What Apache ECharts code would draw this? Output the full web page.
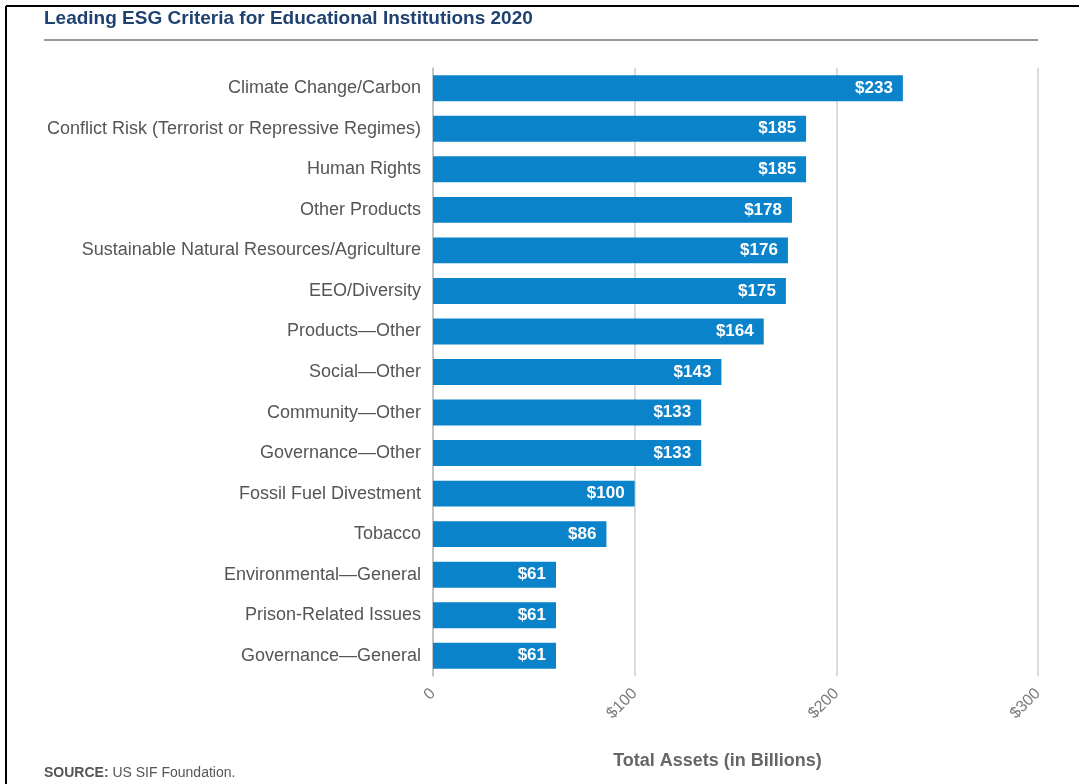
<!DOCTYPE html>
<html>
<head>
<meta charset="utf-8">
<title>Leading ESG Criteria for Educational Institutions 2020</title>
<script src="https://cdn.jsdelivr.net/npm/echarts@6/dist/echarts.min.js"></script>
<style>
  html, body { margin: 0; padding: 0; background: #fff; }
  #chart { width: 1079px; height: 784px; }
</style>
</head>
<body>
<div id="chart"></div>
<script>
// categories, top to bottom
var categories = [
  'Climate Change/Carbon',
  'Conflict Risk (Terrorist or Repressive Regimes)',
  'Human Rights',
  'Other Products',
  'Sustainable Natural Resources/Agriculture',
  'EEO/Diversity',
  'Products\u2014Other',
  'Social\u2014Other',
  'Community\u2014Other',
  'Governance\u2014Other',
  'Fossil Fuel Divestment',
  'Tobacco',
  'Environmental\u2014General',
  'Prison-Related Issues',
  'Governance\u2014General'
];
// total assets, billions
var assets = [233, 185, 185, 178, 176, 175, 164, 143, 133, 133, 100, 86, 61, 61, 61];
var tickLabels = { 0: '0', 100: '$100', 200: '$200', 300: '$300' };

var chart = echarts.init(document.getElementById('chart'));
var font = '"Liberation Sans", Arial, sans-serif';

var option = {
  animation: false,
  textStyle: { fontFamily: font },
  grid: { left: 433, right: 41, top: 68, bottom: 108, containLabel: false },
  xAxis: {
    type: 'value',
    min: 0,
    max: 300,
    interval: 100,
    name: 'Total Assets (in Billions)',
    nameLocation: 'middle',
    nameGap: 76,
    nameTextStyle: { color: '#666', fontSize: 18, fontWeight: 'bold', fontFamily: font, padding: [0, 36, 0, 0] },
    axisLine: { show: false },
    axisTick: { show: false },
    splitLine: { lineStyle: { color: '#cfcfcf', width: 1.5 } },
    axisLabel: {
      rotate: 45,
      margin: 15,
      color: '#7a7a7a',
      fontSize: 16,
      fontFamily: font,
      formatter: function (v) { return tickLabels[v]; }
    }
  },
  yAxis: {
    type: 'category',
    inverse: true,
    data: categories,
    axisLine: { lineStyle: { color: '#bdbdbd', width: 1.5 } },
    axisTick: { length: 5, lineStyle: { color: '#bdbdbd' } },
    axisLabel: { color: '#555', fontSize: 18, margin: 12, fontFamily: font, padding: [6, 0, 0, 0] }
  },
  series: [{
    type: 'bar',
    data: assets,
    barWidth: '64%',
    itemStyle: { color: '#0b83cb' },
    label: {
      show: true,
      position: 'insideRight',
      distance: 10,
      color: '#fff',
      fontSize: 17,
      fontWeight: 'bold',
      fontFamily: font,
      formatter: function (p) { return '$' + p.value; }
    }
  }],
  graphic: [
    { type: 'line', shape: { x1: 6, y1: 6, x2: 1079, y2: 6 }, style: { stroke: '#000', lineWidth: 2 } },
    { type: 'line', shape: { x1: 6, y1: 6, x2: 6, y2: 784 }, style: { stroke: '#000', lineWidth: 2 } },
    {
      type: 'text', left: 44, top: 9,
      style: { text: 'Leading ESG Criteria for Educational Institutions 2020', fill: '#1f4170', font: 'bold 19px ' + font }
    },
    { type: 'line', shape: { x1: 44, y1: 40, x2: 1038, y2: 40 }, style: { stroke: '#999', lineWidth: 2 } },
    {
      type: 'text', left: 44, top: 766,
      style: {
        text: '{b|SOURCE:} US SIF Foundation.',
        rich: { b: { fontWeight: 'bold', fill: '#555', fontSize: 14, fontFamily: font } },
        fill: '#555', font: '14px ' + font
      }
    }
  ]
};

chart.setOption(option);
</script>
</body>
</html>
